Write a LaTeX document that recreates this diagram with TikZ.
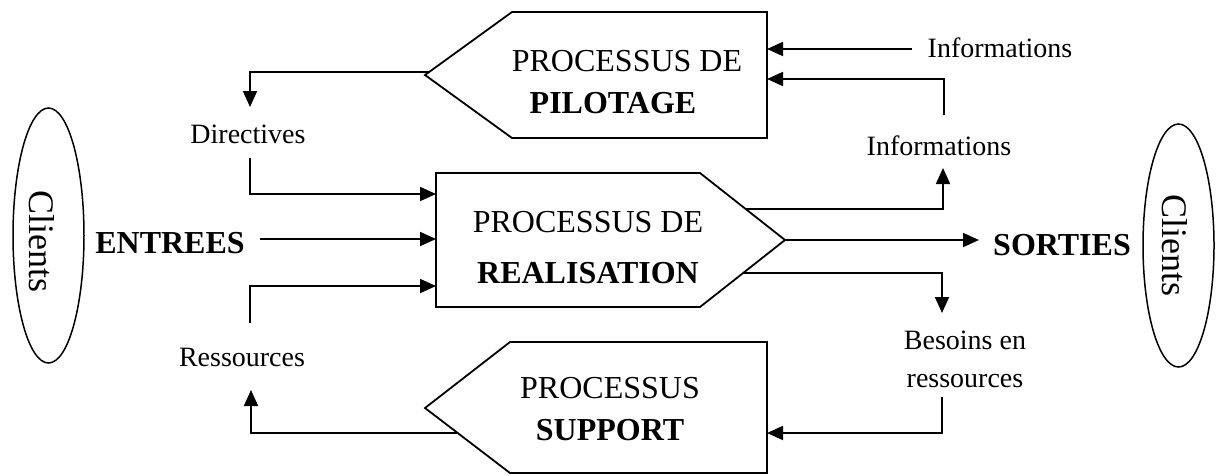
\documentclass[tikz,border=0pt]{standalone}
\usepackage{fontspec}
\setmainfont{Liberation Serif}
\usetikzlibrary{arrows.meta,calc,shapes.geometric}

\tikzset{
  procbox/.style={draw, line width=1.8pt, line join=miter},
  link/.style={line width=1.8pt},
  arr/.style={link, -{Triangle[length=16pt,width=14pt]}},
  lab/.style={inner sep=0pt, anchor=base, font=\fontsize{28}{34}\selectfont},
  proctext/.style={inner sep=0pt, anchor=base, font=\fontsize{32}{38}\selectfont},
  boldtext/.style={inner sep=0pt, anchor=base, font=\bfseries\fontsize{32}{38}\selectfont},
  clientbox/.style={draw, line width=1.5pt, ellipse, inner sep=0pt, minimum width=71pt},
  clienttext/.style={inner sep=0pt, anchor=base, rotate=-90, font=\fontsize{36}{40}\selectfont},
}

\begin{document}
\begin{tikzpicture}[x=1pt, y=-1pt]
  \useasboundingbox (0,0) rectangle (1220,475);

  % --- process shapes ---
  % pilotage (pointing left)
  \coordinate (pilTip) at (425,75);
  \coordinate (pilTL) at (512,12);
  \coordinate (pilTR) at (767,12);
  \coordinate (pilBR) at (767,138);
  \coordinate (pilBL) at (512,138);
  \draw[procbox] (pilTip) -- (pilTL) -- (pilTR) -- (pilBR) -- (pilBL) -- cycle;
  \node[proctext] (pilA) at (627,71) {PROCESSUS DE};
  \node[boldtext] (pilB) at (613,113) {PILOTAGE};

  % realisation (pointing right)
  \coordinate (realTL) at (436,173);
  \coordinate (realTR) at (700,173);
  \coordinate (realTip) at (785,240);
  \coordinate (realBR) at (700,307);
  \coordinate (realBL) at (436,307);
  \draw[procbox] (realTL) -- (realTR) -- (realTip) -- (realBR) -- (realBL) -- cycle;
  \node[proctext] (realA) at (588,232) {PROCESSUS DE};
  \node[boldtext] (realB) at (588,283) {REALISATION};

  % support (pointing left)
  \coordinate (supTip) at (425,408);
  \coordinate (supTL) at (510,342);
  \coordinate (supTR) at (767,342);
  \coordinate (supBR) at (767,473);
  \coordinate (supBL) at (510,473);
  \draw[procbox] (supTip) -- (supTL) -- (supTR) -- (supBR) -- (supBL) -- cycle;
  \node[proctext] (supA) at (610,398) {PROCESSUS};
  \node[boldtext] (supB) at (610,440) {SUPPORT};

  % --- clients ---
  \node[clientbox, minimum height=255pt] (cliL) at (48.5,235.5) {};
  \node[clienttext] (cliLt) at (29,241.5) {Clients};
  \node[clientbox, minimum height=243pt] (cliR) at (1178.5,245.5) {};
  \node[clienttext] (cliRt) at (1162,245.5) {Clients};

  % --- labels ---
  \node[boldtext] (ent) at (170,253) {ENTREES};
  \node[boldtext] (sor) at (1062,255) {SORTIES};
  \node[lab] (dir) at (248,143) {Directives};
  \node[lab] (res) at (242,366) {Ressources};
  \node[lab] (infoT) at (1000,57) {Informations};
  \node[lab] (infoM) at (939,155) {Informations};
  \node[lab] (bes1) at (965,349) {Besoins en};
  \node[lab] (bes2) at (965,387) {ressources};

  % --- connector ends ---
  \coordinate (dirIn) at (250,107);
  \coordinate (dirOut) at (250,158);
  \coordinate (resIn) at (251,390);
  \coordinate (resOut) at (250,323);
  \coordinate (entOut) at (260,239);
  \coordinate (sorIn) at (979,240);
  \coordinate (infoMIn) at (943,168);
  \coordinate (infoMOut) at (944,115);
  \coordinate (infoTOut) at (912,49);
  \coordinate (besIn) at (942,313);
  \coordinate (besOut) at (942,397);

  % --- connectors ---
  \draw[arr] ($(pilTip)!0.05!(pilTL)$) -| (dirIn);
  \draw[arr] (dirOut) |- (realTL |- 0,194);
  \draw[arr] (entOut) -- (realTL |- entOut);
  \draw[arr] (resOut) |- (realTL |- 0,286);
  \draw[arr] ($(supTip)!0.385!(supBL)$) -| (resIn);

  \draw[arr] ($(realTR)!0.537!(realTip)$) -| (infoMIn);
  \draw[arr] (realTip) -- (sorIn);
  \draw[arr] ($(realTip)!0.4925!(realBR)$) -| (besIn);

  \draw[arr] (besOut) |- (supTR |- 0,433);
  \draw[arr] (infoMOut) |- (pilTR |- 0,79);
  \draw[arr] (infoTOut) -- (pilTR |- infoTOut);
\end{tikzpicture}
\end{document}
